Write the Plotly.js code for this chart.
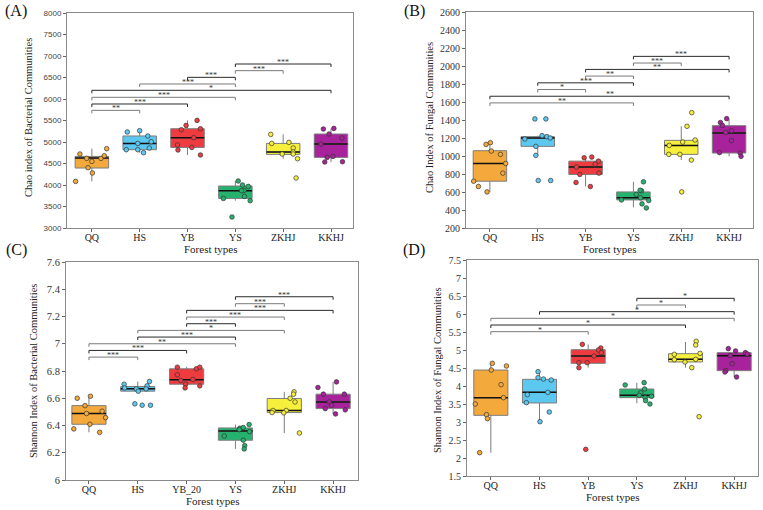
<!DOCTYPE html>
<html>
<head>
<meta charset="utf-8">
<script src="https://cdn.plot.ly/plotly-3.0.1.min.js"></script>
<style>
  html, body { margin: 0; padding: 0; background: #fff; }
  #chart { width: 763px; height: 510px; }
</style>
</head>
<body>
<div id="chart"></div>
<script>
// Forest types
const forestTypes = ['QQ', 'HS', 'YB', 'YS', 'ZKHJ', 'KKHJ'];
const forestTypesC = ['QQ', 'HS', 'YB_20', 'YS', 'ZKHJ', 'KKHJ'];
const groupColors = ['#F3A93C', '#5CC8F0', '#EE3B40', '#25B26F', '#F6EF3C', '#A8229B'];

// (A) Chao index, bacterial communities
const chaoBacPoints = [
  [4721, 4619, 4549, 4402, 4279, 4084, 4619, 4681, 4844],
  [5233, 5263, 5140, 5007, 4967, 4821, 4821, 4751, 4860],
  [5286, 5386, 5502, 5309, 5100, 4930, 4814, 4874, 4698],
  [4093, 4000, 3967, 3874, 3735, 3688, 3635, 3256, 3867],
  [5177, 4967, 4991, 4860, 4767, 4721, 4721, 4612, 4163],
  [5302, 5186, 5316, 5093, 4953, 4642, 4665, 4535, 4542]
];
const chaoBacJitter = [
  [-0.25, -0.11, 0.00, -0.08, 0.01, -0.34, 0.19, 0.26, 0.31],
  [-0.26, 0.00, 0.17, 0.24, -0.04, -0.28, -0.04, 0.08, 0.20],
  [-0.13, -0.03, 0.20, 0.27, 0.13, -0.21, -0.20, 0.09, 0.27],
  [0.06, 0.15, 0.27, 0.18, 0.19, -0.25, 0.31, -0.07, 0.13],
  [-0.26, -0.24, 0.12, 0.21, 0.21, -0.02, 0.21, 0.30, 0.27],
  [-0.16, -0.04, 0.06, 0.23, -0.21, -0.08, 0.04, -0.13, 0.24]
];
const chaoBacQ1 = [4395, 4821, 4874, 3688, 4712, 4642];
const chaoBacMedian = [4628, 4967, 5100, 3867, 4767, 4953];
const chaoBacQ3 = [4665, 5140, 5309, 3977, 4967, 5186];
const chaoBacLow = [4084, 4751, 4698, 3635, 4612, 4535];
const chaoBacHigh = [4844, 5263, 5502, 4093, 5177, 5316];
const chaoBacPairs = [[0, 1], [0, 2], [0, 3], [0, 5], [1, 3], [2, 3], [3, 4], [3, 5]];
const chaoBacPairY = [5736, 5884, 6039, 6202, 6349, 6504, 6659, 6814];
const chaoBacPairSig = ['**', '***', '***', '*', '***', '***', '***', '***'];

// (B) Chao index, fungal communities
const chaoFunPoints = [
  [1129, 1148, 1055, 1018, 917, 810, 720, 661, 601],
  [1412, 1412, 1189, 1226, 1215, 1200, 1107, 1007, 728, 728],
  [981, 988, 943, 910, 877, 795, 810, 706, 661],
  [713, 613, 572, 535, 512, 505, 468, 423, 620],
  [1482, 1330, 1178, 1155, 1118, 1018, 1018, 955, 601],
  [1415, 1372, 1340, 1280, 1262, 1172, 1038, 1033, 996]
];
const chaoFunJitter = [
  [-0.08, 0.01, 0.03, 0.22, 0.33, 0.27, -0.34, -0.24, -0.06],
  [-0.06, 0.17, -0.27, 0.09, 0.19, 0.26, -0.04, -0.04, 0.01, 0.27],
  [-0.03, 0.13, 0.27, 0.20, -0.19, -0.12, 0.28, -0.20, 0.10],
  [0.21, 0.17, 0.06, 0.15, -0.25, 0.32, 0.18, 0.27, 0.14],
  [0.22, 0.12, 0.29, 0.03, -0.25, -0.26, -0.03, 0.21, 0.01],
  [-0.05, -0.18, -0.14, 0.05, -0.07, 0.05, -0.20, 0.23, 0.25]
];
const chaoFunQ1 = [720, 1107, 795, 512, 1018, 1033];
const chaoFunMedian = [917, 1200, 877, 535, 1118, 1256];
const chaoFunQ3 = [1059, 1215, 943, 601, 1174, 1337];
const chaoFunLow = [600, 1007, 661, 430, 955, 996];
const chaoFunHigh = [1148, 1226, 988, 713, 1330, 1408];
const chaoFunPairs = [[0, 3], [0, 5], [1, 2], [1, 3], [2, 3], [2, 5], [3, 4], [3, 5]];
const chaoFunPairY = [1590, 1664, 1739, 1813, 1888, 1962, 2033, 2107];
const chaoFunPairSig = ['**', '**', '*', '***', '**', '**', '***', '***'];

// (C) Shannon index, bacterial communities
const shanBacPoints = [
  [6.600, 6.615, 6.546, 6.488, 6.505, 6.458, 6.409, 6.375, 6.350],
  [6.703, 6.676, 6.669, 6.652, 6.691, 6.669, 6.723, 6.559, 6.549, 6.549],
  [6.828, 6.816, 6.828, 6.772, 6.730, 6.738, 6.703, 6.676, 6.691],
  [6.407, 6.380, 6.385, 6.370, 6.355, 6.323, 6.292, 6.252, 6.228],
  [6.647, 6.630, 6.600, 6.573, 6.510, 6.510, 6.495, 6.493, 6.345],
  [6.720, 6.679, 6.630, 6.630, 6.573, 6.549, 6.524, 6.515, 6.485]
];
const shanBacJitter = [
  [-0.24, 0.03, -0.08, -0.05, 0.27, 0.34, 0.02, -0.31, 0.22],
  [-0.28, -0.27, -0.03, 0.01, 0.19, 0.17, 0.24, -0.06, 0.09, 0.26],
  [-0.19, 0.20, 0.27, -0.19, -0.12, 0.13, -0.02, -0.03, 0.27],
  [0.28, 0.09, 0.16, 0.08, 0.29, -0.23, 0.16, 0.19, 0.18],
  [0.20, 0.19, 0.12, 0.22, 0.04, -0.23, -0.25, -0.01, 0.31],
  [0.07, -0.31, -0.20, 0.23, -0.08, -0.03, -0.16, 0.25, 0.05]
];
const shanBacQ1 = [6.409, 6.652, 6.703, 6.292, 6.495, 6.524];
const shanBacMedian = [6.488, 6.669, 6.735, 6.360, 6.510, 6.573];
const shanBacQ3 = [6.546, 6.686, 6.816, 6.382, 6.598, 6.630];
const shanBacLow = [6.350, 6.648, 6.676, 6.228, 6.345, 6.485];
const shanBacHigh = [6.615, 6.723, 6.831, 6.407, 6.647, 6.720];
const shanBacPairs = [[0, 1], [0, 2], [0, 3], [1, 3], [1, 4], [2, 3], [2, 4], [2, 5], [3, 4], [3, 5]];
const shanBacPairY = [6.902, 6.951, 7.0, 7.049, 7.098, 7.147, 7.196, 7.245, 7.294, 7.345];
const shanBacPairSig = ['***', '***', '**', '***', '*', '***', '***', '***', '***', '***'];

// (D) Shannon index, fungal communities
const shanFunPoints = [
  [4.630, 4.444, 4.556, 4.037, 3.676, 3.500, 3.204, 3.093, 2.148],
  [4.398, 4.231, 4.194, 4.167, 3.824, 3.759, 3.537, 3.278, 3.009],
  [5.157, 5.056, 5.000, 4.926, 4.833, 4.648, 4.648, 4.509, 2.240],
  [4.093, 4.028, 3.917, 3.815, 3.741, 3.676, 3.713, 3.593, 3.500],
  [5.241, 5.139, 4.907, 4.880, 4.731, 4.741, 4.667, 4.509, 3.148],
  [5.037, 4.972, 4.926, 4.889, 4.843, 4.620, 4.426, 4.389, 4.250]
];
const shanFunJitter = [
  [0.03, 0.01, 0.32, 0.21, 0.26, -0.32, -0.09, -0.07, -0.23],
  [-0.03, -0.03, 0.08, 0.24, 0.17, -0.25, -0.27, 0.20, 0.01],
  [-0.12, 0.26, 0.21, 0.27, 0.12, -0.19, -0.02, -0.19, -0.05],
  [0.15, -0.24, 0.16, 0.08, 0.05, 0.17, 0.30, 0.18, 0.27],
  [0.22, 0.21, 0.30, -0.23, -0.23, 0.21, -0.01, 0.13, 0.28],
  [-0.12, 0.03, 0.23, 0.27, -0.08, -0.04, -0.17, -0.19, 0.05]
];
const shanFunQ1 = [3.185, 3.528, 4.630, 3.676, 4.667, 4.426];
const shanFunMedian = [3.676, 3.824, 4.833, 3.741, 4.741, 4.843];
const shanFunQ3 = [4.444, 4.185, 5.009, 3.917, 4.898, 4.926];
const shanFunLow = [2.148, 3.009, 4.509, 3.519, 4.509, 4.250];
const shanFunHigh = [4.630, 4.398, 5.157, 4.093, 5.222, 5.037];
const shanFunPairs = [[0, 2], [0, 4], [0, 5], [1, 5], [3, 4], [3, 5]];
const shanFunPairY = [5.509, 5.694, 5.880, 6.065, 6.250, 6.435];
const shanFunPairSig = ['*', '*', '*', '*', '*', '*'];

const W = 763, H = 510;
const serif = 'Liberation Serif, Times New Roman, serif';
const sans = 'Liberation Sans, Arial, sans-serif';

// Panel geometry in pixels: left, right, top, bottom of the plotting area
const panels = [
  { id: '', label: '(A)', lx: 16, ly: 11, box: [67, 353, 13, 228], xr: [-0.52, 5.46], yr: [3000, 8000], dy: 500,
    yfont: { family: sans, size: 8, color: '#444' },
    ytitle: 'Chao index of Bacterial Communities', ytx: 28, yty: 118, xtx: 210, xty: 249, cats: forestTypes,
    pts: chaoBacPoints, jit: chaoBacJitter, q1: chaoBacQ1, med: chaoBacMedian, q3: chaoBacQ3, lo: chaoBacLow, hi: chaoBacHigh,
    pairs: chaoBacPairs, pairY: chaoBacPairY, sig: chaoBacPairSig },
  { id: '2', label: '(B)', lx: 414, ly: 11, box: [466, 753, 12, 228], xr: [-0.5, 5.5], yr: [200, 2600], dy: 200,
    yfont: { family: serif, size: 10, color: '#333' },
    ytitle: 'Chao Index of Fungal Communities', ytx: 429, yty: 118, xtx: 609, xty: 249, cats: forestTypes,
    pts: chaoFunPoints, jit: chaoFunJitter, q1: chaoFunQ1, med: chaoFunMedian, q3: chaoFunQ3, lo: chaoFunLow, hi: chaoFunHigh,
    pairs: chaoFunPairs, pairY: chaoFunPairY, sig: chaoFunPairSig },
  { id: '3', label: '(C)', lx: 16, ly: 250, box: [66, 358, 262, 480], xr: [-0.47, 5.51], yr: [6, 7.6], dy: 0.2,
    yfont: { family: serif, size: 10.5, color: '#333' },
    ytitle: 'Shannon Index of Bacterial Communities', ytx: 33, yty: 371, xtx: 212, xty: 501, cats: forestTypesC,
    pts: shanBacPoints, jit: shanBacJitter, q1: shanBacQ1, med: shanBacMedian, q3: shanBacQ3, lo: shanBacLow, hi: shanBacHigh,
    pairs: shanBacPairs, pairY: shanBacPairY, sig: shanBacPairSig },
  { id: '4', label: '(D)', lx: 414, ly: 250, box: [467, 758, 260, 476], xr: [-0.49, 5.49], yr: [1.5, 7.5], dy: 0.5,
    yfont: { family: serif, size: 10, color: '#333' },
    ytitle: 'Shannon Index of Fungal Communities', ytx: 437, yty: 370, xtx: 612, xty: 497, cats: forestTypes,
    pts: shanFunPoints, jit: shanFunJitter, q1: shanFunQ1, med: shanFunMedian, q3: shanFunQ3, lo: shanFunLow, hi: shanFunHigh,
    pairs: shanFunPairs, pairY: shanFunPairY, sig: shanFunPairSig }
];

const traces = [];
const annotations = [];
const layout = {
  width: W, height: H,
  margin: { l: 0, r: 0, t: 0, b: 0 },
  paper_bgcolor: '#fff', plot_bgcolor: '#fff',
  showlegend: false,
  boxmode: 'overlay',
  annotations: annotations
};

const boxWidth = 0.7;

panels.forEach(p => {
  const xa = 'x' + p.id, ya = 'y' + p.id;
  const [L, R, T, B] = p.box;

  layout['xaxis' + p.id] = {
    domain: [L / W, R / W], anchor: ya, range: p.xr,
    tickmode: 'array', tickvals: p.cats.map((_, i) => i), ticktext: p.cats,
    ticks: 'outside', ticklen: 3, tickcolor: '#666', tickwidth: 1,
    ticklabelstandoff: -3,
    showline: true, mirror: true, linecolor: '#8a8a8a', linewidth: 1,
    showgrid: false, zeroline: false,
    tickfont: { family: serif, size: 10, color: '#222' }
  };
  layout['yaxis' + p.id] = {
    domain: [1 - B / H, 1 - T / H], anchor: xa, range: p.yr,
    tick0: p.yr[0], dtick: p.dy,
    ticks: 'outside', ticklen: 3, tickcolor: '#666', tickwidth: 1,
    showline: true, mirror: true, linecolor: '#8a8a8a', linewidth: 1,
    showgrid: false, zeroline: false,
    tickfont: p.yfont
  };

  // boxes from quartiles and whisker ends
  p.cats.forEach((c, i) => {
    traces.push({
      type: 'box', xaxis: xa, yaxis: ya, x: [i],
      q1: [p.q1[i]], median: [p.med[i]], q3: [p.q3[i]],
      lowerfence: [p.lo[i]], upperfence: [p.hi[i]],
      width: boxWidth, whiskerwidth: 0, boxpoints: false,
      fillcolor: groupColors[i], line: { color: '#7d7d7d', width: 1 },
      hoverinfo: 'skip'
    });
  });

  // black median bars
  const mx = [], my = [];
  p.med.forEach((m, i) => { mx.push(i - boxWidth / 2, i + boxWidth / 2, null); my.push(m, m, null); });
  traces.push({ type: 'scatter', mode: 'lines', xaxis: xa, yaxis: ya, x: mx, y: my,
    line: { color: '#111', width: 1.5 }, hoverinfo: 'skip' });

  // jittered samples
  p.pts.forEach((vals, i) => {
    traces.push({
      type: 'scatter', mode: 'markers', xaxis: xa, yaxis: ya,
      x: vals.map((_, k) => i + p.jit[i][k]), y: vals,
      marker: { size: 4.6, color: groupColors[i], line: { color: 'rgba(50,50,50,0.85)', width: 0.8 } },
      hoverinfo: 'skip'
    });
  });

  // significance brackets
  const tickH = (p.yr[1] - p.yr[0]) / (B - T) * 3;
  p.pairs.forEach((pr, k) => {
    const y = p.pairY[k];
    traces.push({
      type: 'scatter', mode: 'lines', xaxis: xa, yaxis: ya,
      x: [pr[0], pr[0], pr[1], pr[1]], y: [y - tickH, y, y, y - tickH],
      line: { color: k % 2 === 0 ? '#7a7a7a' : '#2a2a2a', width: 1 },
      hoverinfo: 'skip'
    });
    annotations.push({
      xref: xa, yref: ya, x: (pr[0] + pr[1]) / 2, y: y,
      text: p.sig[k], showarrow: false, yanchor: 'bottom', yshift: -4, borderpad: 0,
      font: { family: serif, size: 8, color: '#333' }
    });
  });

  // panel letter and axis titles
  annotations.push({ xref: 'paper', yref: 'paper', x: p.lx / W, y: 1 - p.ly / H,
    text: p.label, showarrow: false, xanchor: 'center', yanchor: 'middle',
    font: { family: serif, size: 16, color: '#111' } });
  annotations.push({ xref: 'paper', yref: 'paper', x: p.ytx / W, y: 1 - p.yty / H,
    text: p.ytitle, showarrow: false, textangle: -90, xanchor: 'center', yanchor: 'middle',
    font: { family: serif, size: 10.5, color: '#222' } });
  annotations.push({ xref: 'paper', yref: 'paper', x: p.xtx / W, y: 1 - p.xty / H,
    text: 'Forest types', showarrow: false, xanchor: 'center', yanchor: 'middle', borderpad: 0,
    font: { family: serif, size: 11, color: '#222' } });
});

Plotly.newPlot('chart', traces, layout, { displayModeBar: false, staticPlot: true });
</script>
</body>
</html>
